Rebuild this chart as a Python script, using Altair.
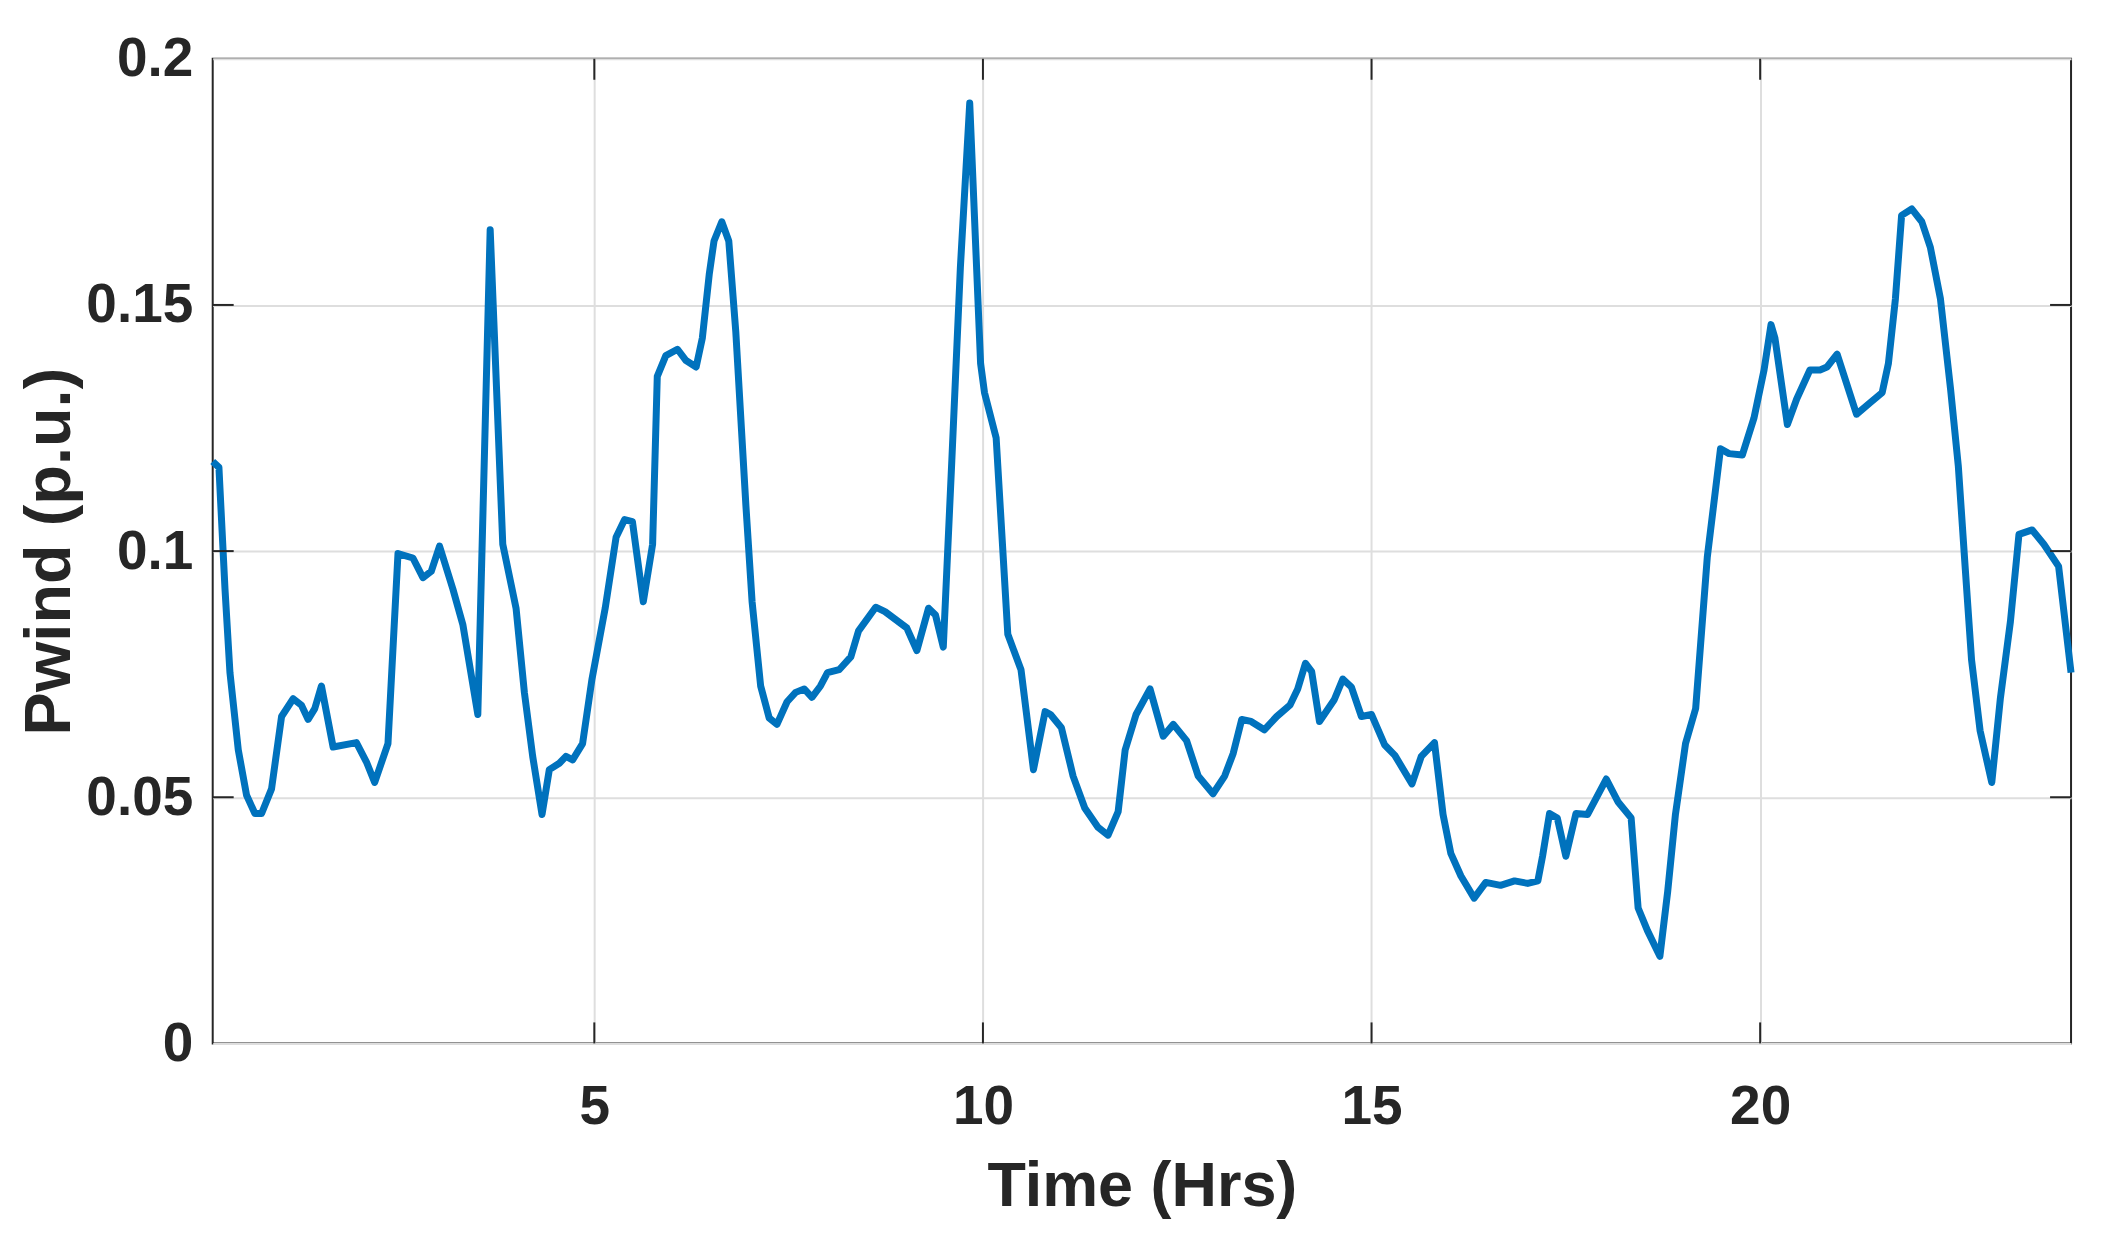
import altair as alt
import pandas as pd

# ---- data ----
hours = [0.09, 0.17, 0.248, 0.312, 0.419, 0.526, 0.633, 0.719, 0.847, 0.976,
         1.125, 1.232, 1.318, 1.403, 1.489, 1.639, 1.939, 2.067, 2.174, 2.345,
         2.474, 2.666, 2.795, 2.902, 3.009, 3.18, 3.308, 3.501, 3.66, 3.822,
         3.993, 4.1, 4.207, 4.327, 4.421, 4.55, 4.635, 4.721, 4.849, 4.97,
         5.14, 5.28, 5.39, 5.49, 5.63, 5.75, 5.81, 5.92, 6.07, 6.18,
         6.31, 6.39, 6.48, 6.54, 6.64, 6.73, 6.82, 6.95, 7.03, 7.14,
         7.25, 7.35, 7.48, 7.59, 7.70, 7.80, 7.91, 8.00, 8.15, 8.30,
         8.40, 8.62, 8.74, 9.02, 9.15, 9.30, 9.39, 9.49, 9.60, 9.71,
         9.83, 9.97, 10.02, 10.17, 10.32, 10.49, 10.65, 10.80, 10.87, 11.01,
         11.16, 11.31, 11.48, 11.61, 11.74, 11.83, 11.97, 12.15, 12.32, 12.45,
         12.62, 12.77, 12.96, 13.11, 13.22, 13.33, 13.45, 13.62, 13.78, 13.95,
         14.05, 14.15, 14.23, 14.33, 14.52, 14.63, 14.74, 14.87, 15.00, 15.17,
         15.30, 15.52, 15.64, 15.81, 15.92, 16.02, 16.15, 16.32, 16.47, 16.66,
         16.84, 17.01, 17.14, 17.20, 17.29, 17.39, 17.50, 17.63, 17.78, 18.02,
         18.17, 18.34, 18.43, 18.55, 18.71, 18.81, 18.91, 19.04, 19.17, 19.32,
         19.49, 19.60, 19.77, 19.92, 20.05, 20.14, 20.19, 20.35, 20.47, 20.64,
         20.77, 20.86, 20.99, 21.24, 21.42, 21.57, 21.65, 21.74, 21.82, 21.95,
         22.08, 22.19, 22.32, 22.45, 22.55, 22.64, 22.72, 22.83, 22.98, 23.09,
         23.22, 23.33, 23.50, 23.65, 23.84, 24.0]
pwind = [0.1182, 0.1170, 0.0923, 0.0753, 0.0596, 0.0504, 0.0467, 0.0467, 0.0517, 0.0664,
         0.0700, 0.0687, 0.0658, 0.0680, 0.0726, 0.0602, 0.0611, 0.0572, 0.0530, 0.0609,
         0.0995, 0.0986, 0.0946, 0.0959, 0.1010, 0.0923, 0.0851, 0.0668, 0.1653, 0.1014,
         0.0884, 0.0713, 0.0583, 0.0465, 0.0556, 0.0569, 0.0583, 0.0576, 0.0609, 0.0740,
         0.0884, 0.1028, 0.1064, 0.1060, 0.0897, 0.1014, 0.1355, 0.1397, 0.1410, 0.1387,
         0.1374, 0.1433, 0.1564, 0.1630, 0.1669, 0.1630, 0.1446, 0.1093, 0.0897, 0.0726,
         0.0661, 0.0648, 0.0694, 0.0713, 0.0720, 0.0703, 0.0726, 0.0753, 0.0759, 0.0785,
         0.0838, 0.0886, 0.0877, 0.0844, 0.0798, 0.0884, 0.0870, 0.0805, 0.1185, 0.1577,
         0.1910, 0.1381, 0.1322, 0.1230, 0.0831, 0.0759, 0.0556, 0.0674, 0.0668, 0.0641,
         0.0543, 0.0478, 0.0439, 0.0423, 0.0471, 0.0596, 0.0668, 0.0720, 0.0624, 0.0648,
         0.0615, 0.0543, 0.0507, 0.0543, 0.0589, 0.0658, 0.0654, 0.0637, 0.0664, 0.0687,
         0.0720, 0.0772, 0.0755, 0.0654, 0.0698, 0.0740, 0.0724, 0.0664, 0.0668, 0.0606,
         0.0585, 0.0527, 0.0583, 0.0611, 0.0465, 0.0386, 0.0340, 0.0295, 0.0327, 0.0321,
         0.0330, 0.0325, 0.0330, 0.0380, 0.0467, 0.0458, 0.0380, 0.0467, 0.0465, 0.0537,
         0.0491, 0.0458, 0.0275, 0.0229, 0.0177, 0.0308, 0.0465, 0.0609, 0.0680, 0.0988,
         0.1208, 0.1198, 0.1195, 0.1270, 0.1368, 0.1460, 0.1433, 0.1257, 0.1309, 0.1368,
         0.1368, 0.1374, 0.1400, 0.1278, 0.1302, 0.1322, 0.1381, 0.1512, 0.1682, 0.1695,
         0.1669, 0.1617, 0.1512, 0.1329, 0.1172, 0.0962, 0.0779, 0.0635, 0.0530, 0.0700,
         0.0857, 0.1034, 0.1043, 0.1014, 0.0969, 0.0753]

x_ticks = [5, 10, 15, 20]
y_ticks = [0, 0.05, 0.1, 0.15, 0.2]
y_inner_ticks = [0.05, 0.1, 0.15]
x_domain = [0.09, 24]
y_domain = [0, 0.2]

# ---- styling ----
W, H = 1861, 986
TXT = "#262626"
FONT = "Liberation Sans, Arial, sans-serif"
TICK_LEN = 21

x_scale = alt.Scale(domain=x_domain, nice=False, zero=False)
y_scale = alt.Scale(domain=y_domain, nice=False, zero=False)

x_axis = alt.Axis(values=x_ticks, grid=True, gridColor="#dedede", gridWidth=2,
                  ticks=False, domain=False, labelFlush=False,
                  labelFont=FONT, labelFontSize=55, labelFontWeight="bold",
                  labelColor=TXT, labelPadding=37,
                  title="Time (Hrs)", titleFont=FONT, titleFontSize=63,
                  titleFontWeight="bold", titleColor=TXT,
                  titleY=162, titleBaseline="alphabetic")
y_axis = alt.Axis(values=y_ticks, format="~g", grid=True, gridColor="#dedede", gridWidth=2,
                  ticks=False, domain=False, labelFlush=False,
                  labelFont=FONT, labelFontSize=55, labelFontWeight="bold",
                  labelColor=TXT, labelPadding=20,
                  title="Pwind (p.u.)", titleFont=FONT, titleFontSize=65,
                  titleFontWeight="bold", titleColor=TXT, titleAngle=270,
                  titleX=-143, titleY=H / 2, titleBaseline="alphabetic", titleAlign="center")

df = pd.DataFrame({"t": hours, "p": pwind})
xt = pd.DataFrame({"t": x_ticks})
yt = pd.DataFrame({"p": y_inner_ticks})

line = alt.Chart(df).mark_line(color="#0072BD", strokeWidth=7, strokeJoin="round").encode(
    x=alt.X("t:Q", scale=x_scale, axis=x_axis),
    y=alt.Y("p:Q", scale=y_scale, axis=y_axis),
)

bottom_ticks = alt.Chart(xt).mark_rule(color=TXT, strokeWidth=2).encode(
    x=alt.X("t:Q", scale=x_scale, axis=x_axis),
    y=alt.value(H), y2=alt.value(H - TICK_LEN))
top_ticks = alt.Chart(xt).mark_rule(color=TXT, strokeWidth=2).encode(
    x=alt.X("t:Q", scale=x_scale, axis=x_axis),
    y=alt.value(0), y2=alt.value(TICK_LEN))
left_ticks = alt.Chart(yt).mark_rule(color=TXT, strokeWidth=2).encode(
    y=alt.Y("p:Q", scale=y_scale, axis=y_axis),
    x=alt.value(0), x2=alt.value(TICK_LEN))
right_ticks = alt.Chart(yt).mark_rule(color=TXT, strokeWidth=2).encode(
    y=alt.Y("p:Q", scale=y_scale, axis=y_axis),
    x=alt.value(W), x2=alt.value(W - TICK_LEN))

chart = alt.layer(line, bottom_ticks, top_ticks, left_ticks, right_ticks).properties(
    width=W, height=H,
    autosize=alt.AutoSizeParams(type="none"),
    padding={"left": 205, "top": 50, "right": 30, "bottom": 180},
    background="white",
).configure_view(stroke=TXT, strokeWidth=2)

chart.save("out.html", embed_options={"renderer": "svg", "actions": False})
